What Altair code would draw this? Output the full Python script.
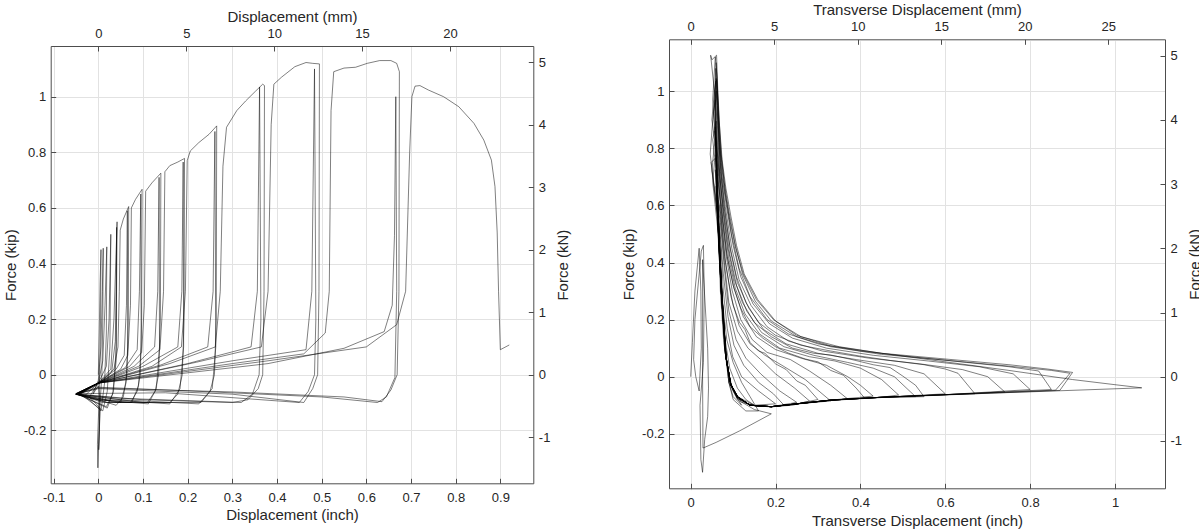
import altair as alt
import pandas as pd

# ---------------- data: left panel (Force vs Displacement), x in inch, y in kip
L01 = [(0.0, 0.0), (0.002, 0.15), (0.004, 0.33), (0.006, 0.45), (0.005, 0.2), (0.003, 0.0), (0.001, -0.12),
       (-0.002, -0.25), (-0.001, -0.335), (0.002, -0.2), (0.003, -0.08), (0.0, -0.04), (-0.012, -0.07), (0.0, -0.02)]
L02 = [(0.006, 0.1), (0.009, 0.3), (0.011, 0.455), (0.010, 0.2), (0.008, 0.0), (0.004, -0.1), (0.001, -0.27),
       (0.004, -0.12), (-0.02, -0.08), (0.0, -0.03)]
L03 = [(0.01, 0.05), (0.015, 0.25), (0.019, 0.46), (0.018, 0.15), (0.014, -0.03), (0.006, -0.13), (-0.03, -0.075), (0.0, -0.03)]
L04 = [(0.018, 0.03), (0.024, 0.2), (0.028, 0.505), (0.026, 0.1), (0.02, -0.06), (0.01, -0.13), (-0.04, -0.07), (0.0, -0.03)]
L05 = [(0.028, 0.02), (0.035, 0.2), (0.04, 0.45), (0.042, 0.55), (0.04, 0.1), (0.034, -0.06), (0.02, -0.12),
       (-0.045, -0.07), (0.0, -0.035)]
L06 = [(0.03, 0.01), (0.038, 0.12), (0.04, 0.3), (0.041, 0.53), (0.04, 0.05), (0.032, -0.07), (0.018, -0.115),
       (-0.05, -0.068), (0.0, -0.03)]
L07 = [(0.035, 0.02), (0.044, 0.1), (0.047, 0.3), (0.049, 0.52), (0.056, 0.56), (0.068, 0.605), (0.067, 0.2),
       (0.064, 0.0), (0.056, -0.08), (0.04, -0.11), (0.0, -0.09), (-0.05, -0.07), (0.0, -0.03)]
L08 = [(0.04, 0.02), (0.058, 0.07), (0.063, 0.25), (0.065, 0.59), (0.066, 0.1), (0.062, -0.03), (0.05, -0.1),
       (0.01, -0.1), (-0.05, -0.068), (0.0, -0.03)]
L09 = [(0.05, 0.02), (0.066, 0.07), (0.072, 0.25), (0.074, 0.6), (0.083, 0.63), (0.098, 0.667), (0.097, 0.2),
       (0.094, 0.0), (0.087, -0.06), (0.072, -0.1), (0.02, -0.1), (-0.052, -0.07), (0.0, -0.03)]
L10 = [(0.06, 0.025), (0.087, 0.09), (0.092, 0.3), (0.095, 0.65), (0.096, 0.1), (0.09, -0.04), (0.075, -0.1),
       (0.0, -0.09), (-0.05, -0.07), (0.0, -0.03)]
L11 = [(0.07, 0.03), (0.097, 0.08), (0.103, 0.25), (0.106, 0.66), (0.12, 0.69), (0.14, 0.725), (0.139, 0.2),
       (0.135, 0.0), (0.127, -0.06), (0.11, -0.1), (0.04, -0.1), (-0.05, -0.07), (0.0, -0.03)]
L12 = [(0.08, 0.03), (0.126, 0.1), (0.133, 0.3), (0.136, 0.71), (0.137, 0.1), (0.13, -0.05), (0.112, -0.105),
       (0.0, -0.09), (-0.048, -0.07), (0.0, -0.03)]
L13 = [(0.09, 0.03), (0.138, 0.09), (0.146, 0.3), (0.149, 0.73), (0.16, 0.752), (0.178, 0.765), (0.193, 0.778),
       (0.192, 0.2), (0.188, 0.0), (0.178, -0.07), (0.16, -0.1), (0.05, -0.1), (-0.05, -0.07), (0.0, -0.03)]
L14 = [(0.1, 0.03), (0.178, 0.1), (0.187, 0.3), (0.19, 0.765), (0.191, 0.1), (0.183, -0.05), (0.16, -0.105),
       (0.02, -0.09), (-0.046, -0.07), (0.0, -0.03)]
L15 = [(0.12, 0.03), (0.186, 0.1), (0.195, 0.3), (0.199, 0.77), (0.206, 0.805), (0.225, 0.835), (0.248, 0.865),
       (0.265, 0.895), (0.264, 0.2), (0.26, 0.0), (0.25, -0.06), (0.23, -0.1), (0.1, -0.1), (-0.05, -0.07), (0.0, -0.03)]
L16 = [(0.14, 0.035), (0.245, 0.1), (0.257, 0.3), (0.261, 0.875), (0.263, 0.1), (0.255, -0.05), (0.225, -0.105),
       (0.05, -0.09), (-0.045, -0.07), (0.0, -0.03)]
L17 = [(0.16, 0.04), (0.262, 0.1), (0.273, 0.3), (0.279, 0.75), (0.287, 0.89), (0.31, 0.95), (0.33, 0.985),
       (0.352, 1.02), (0.368, 1.045), (0.372, 1.04), (0.371, 0.3), (0.368, 0.0), (0.358, -0.05), (0.335, -0.09),
       (0.3, -0.1), (0.1, -0.09), (-0.05, -0.07), (0.0, -0.03)]
L18 = [(0.2, 0.04), (0.342, 0.1), (0.356, 0.3), (0.361, 1.035), (0.364, 0.2), (0.36, 0.0), (0.345, -0.07),
       (0.32, -0.1), (0.05, -0.085), (-0.042, -0.07), (0.0, -0.03)]
L19 = [(0.22, 0.045), (0.365, 0.1), (0.38, 0.3), (0.387, 0.9), (0.393, 1.045), (0.41, 1.07), (0.44, 1.108),
       (0.465, 1.123), (0.48, 1.12), (0.495, 1.118), (0.494, 0.3), (0.491, 0.0), (0.48, -0.05), (0.46, -0.1),
       (0.3, -0.07), (0.0, -0.05), (-0.05, -0.07), (0.0, -0.03)]
L20 = [(0.3, 0.05), (0.465, 0.09), (0.478, 0.3), (0.484, 1.1), (0.487, 0.2), (0.484, 0.0), (0.47, -0.06),
       (0.45, -0.1), (0.15, -0.065), (-0.045, -0.068), (0.0, -0.03)]
L21 = [(0.3, 0.04), (0.46, 0.075), (0.508, 0.15), (0.517, 0.3), (0.521, 0.95), (0.527, 1.09), (0.55, 1.103),
       (0.576, 1.106), (0.602, 1.12), (0.63, 1.13), (0.655, 1.13), (0.668, 1.12), (0.674, 1.09), (0.673, 0.3),
       (0.669, 0.0), (0.655, -0.055), (0.635, -0.097), (0.55, -0.08), (0.3, -0.062), (0.0, -0.048),
       (-0.05, -0.07), (0.0, -0.03)]
L22 = [(0.38, 0.04), (0.55, 0.095), (0.64, 0.155), (0.658, 0.25), (0.663, 0.5), (0.666, 1.0), (0.668, 0.3),
       (0.664, -0.01), (0.645, -0.08), (0.625, -0.1), (0.5, -0.08), (0.2, -0.058), (0.0, -0.045),
       (-0.045, -0.068), (0.0, -0.03)]
L23 = [(0.38, 0.05), (0.6, 0.1), (0.668, 0.18), (0.688, 0.3), (0.697, 0.8), (0.702, 1.0), (0.709, 1.038),
       (0.72, 1.04), (0.739, 1.024), (0.773, 1.0), (0.807, 0.964), (0.841, 0.904), (0.863, 0.844), (0.88, 0.772),
       (0.888, 0.677), (0.893, 0.51), (0.896, 0.3), (0.9, 0.09), (0.92, 0.107)]
LEFT_CYCLES = [L01, L02, L03, L04, L05, L06, L07, L08, L09, L10, L11, L12,
               L13, L14, L15, L16, L17, L18, L19, L20, L21, L22, L23]

# ---------------- data: right panel (Force vs Transverse displacement)
R01 = [(0.0, 0.0), (0.004, 0.12), (0.01, 0.3), (0.02, 0.45), (0.024, 0.3), (0.025, 0.1), (0.02, -0.05),
       (0.012, 0.0), (0.007, 0.06), (0.01, 0.2), (0.025, 0.44), (0.03, 0.46), (0.032, 0.3), (0.03, 0.05),
       (0.022, -0.1), (0.024, -0.29), (0.028, -0.335), (0.033, -0.22), (0.04, -0.14), (0.042, -0.04),
       (0.04, 0.1), (0.028, 0.41), (0.028, 0.0), (0.029, -0.25), (0.06, -0.23), (0.115, -0.19),
       (0.19, -0.13), (0.15, -0.115), (0.11, -0.08), (0.09, -0.02)]
R02 = [(0.08, 0.1), (0.072, 0.3), (0.066, 0.5), (0.07, 0.3), (0.078, 0.12), (0.088, 0.02), (0.1, -0.05),
       (0.12, -0.1), (0.1, -0.07), (0.09, -0.02)]
R03 = [(0.082, 0.1), (0.07, 0.35), (0.064, 0.55), (0.067, 0.5), (0.072, 0.3), (0.08, 0.14), (0.092, 0.03),
       (0.11, -0.04), (0.13, -0.08), (0.15, -0.1), (0.12, -0.09), (0.095, -0.03)]
R04 = [(0.085, 0.05), (0.074, 0.25), (0.066, 0.45), (0.062, 0.6), (0.065, 0.55), (0.07, 0.48), (0.077, 0.3),
       (0.086, 0.17), (0.099, 0.07), (0.12, 0.0), (0.16, -0.05), (0.2, -0.095), (0.15, -0.1), (0.11, -0.07),
       (0.095, -0.03)]
R05 = [(0.084, 0.06), (0.075, 0.25), (0.066, 0.5), (0.06, 0.667), (0.063, 0.6), (0.068, 0.53), (0.077, 0.36),
       (0.088, 0.21), (0.102, 0.11), (0.125, 0.04), (0.16, -0.02), (0.195, -0.06), (0.22, -0.1), (0.19, -0.105),
       (0.14, -0.1), (0.11, -0.07), (0.095, -0.03)]
R06 = [(0.083, 0.07), (0.074, 0.28), (0.067, 0.5), (0.062, 0.65), (0.064, 0.6), (0.07, 0.54), (0.08, 0.37),
       (0.09, 0.23), (0.107, 0.13), (0.13, 0.065), (0.165, 0.01), (0.21, -0.05), (0.25, -0.09), (0.19, -0.105),
       (0.14, -0.1), (0.11, -0.075), (0.095, -0.03)]
R07 = [(0.085, 0.05), (0.076, 0.2), (0.068, 0.4), (0.062, 0.6), (0.058, 0.725), (0.062, 0.65), (0.07, 0.56),
       (0.08, 0.39), (0.09, 0.26), (0.11, 0.16), (0.135, 0.1), (0.165, 0.06), (0.2, 0.01), (0.245, -0.04),
       (0.28, -0.085), (0.24, -0.1), (0.19, -0.105), (0.14, -0.1), (0.11, -0.07), (0.093, -0.02)]
R08 = [(0.082, 0.08), (0.073, 0.3), (0.066, 0.5), (0.06, 0.65), (0.062, 0.71), (0.065, 0.62), (0.072, 0.56),
       (0.082, 0.4), (0.095, 0.28), (0.114, 0.18), (0.14, 0.115), (0.175, 0.075), (0.215, 0.04), (0.27, -0.01),
       (0.33, -0.085), (0.25, -0.095), (0.19, -0.105), (0.14, -0.1), (0.11, -0.07), (0.094, -0.025)]
R09 = [(0.083, 0.07), (0.072, 0.3), (0.065, 0.5), (0.052, 0.68), (0.056, 0.75), (0.06, 0.778), (0.064, 0.7),
       (0.073, 0.57), (0.084, 0.42), (0.098, 0.3), (0.118, 0.2), (0.145, 0.13), (0.18, 0.085), (0.235, 0.06),
       (0.28, 0.02), (0.33, -0.03), (0.37, -0.078), (0.33, -0.082), (0.25, -0.095), (0.19, -0.105),
       (0.14, -0.1), (0.11, -0.07), (0.094, -0.025)]
R10 = [(0.084, 0.06), (0.074, 0.28), (0.066, 0.48), (0.06, 0.62), (0.048, 0.75), (0.058, 0.765), (0.063, 0.7),
       (0.074, 0.57), (0.086, 0.42), (0.102, 0.31), (0.124, 0.21), (0.155, 0.14), (0.2, 0.095), (0.26, 0.065),
       (0.32, 0.04), (0.37, 0.0), (0.4, -0.03), (0.43, -0.068), (0.33, -0.082), (0.25, -0.095), (0.19, -0.105),
       (0.14, -0.1), (0.11, -0.07), (0.095, -0.03)]
R11 = [(0.082, 0.08), (0.072, 0.3), (0.064, 0.55), (0.058, 0.75), (0.052, 0.83), (0.06, 0.895), (0.064, 0.8),
       (0.069, 0.7), (0.076, 0.58), (0.089, 0.42), (0.105, 0.31), (0.128, 0.22), (0.162, 0.15), (0.21, 0.1),
       (0.28, 0.07), (0.34, 0.055), (0.4, 0.03), (0.45, -0.01), (0.49, -0.064), (0.45, -0.072), (0.33, -0.082),
       (0.25, -0.095), (0.19, -0.105), (0.14, -0.1), (0.11, -0.07), (0.094, -0.025)]
R12 = [(0.083, 0.07), (0.073, 0.3), (0.065, 0.55), (0.06, 0.75), (0.058, 0.875), (0.062, 0.8), (0.068, 0.7),
       (0.078, 0.58), (0.092, 0.43), (0.108, 0.32), (0.132, 0.23), (0.167, 0.155), (0.22, 0.105), (0.29, 0.075),
       (0.37, 0.05), (0.43, 0.03), (0.48, 0.0), (0.53, -0.07), (0.45, -0.072), (0.33, -0.082), (0.25, -0.095),
       (0.19, -0.105), (0.14, -0.1), (0.11, -0.075), (0.095, -0.03)]
R13 = [(0.082, 0.08), (0.072, 0.3), (0.064, 0.55), (0.059, 0.8), (0.05, 0.9), (0.056, 1.0), (0.06, 1.045),
       (0.063, 0.95), (0.066, 0.85), (0.07, 0.72), (0.079, 0.59), (0.094, 0.44), (0.11, 0.33), (0.137, 0.24),
       (0.172, 0.165), (0.225, 0.115), (0.3, 0.082), (0.39, 0.06), (0.48, 0.04), (0.55, 0.01), (0.6, -0.06),
       (0.45, -0.072), (0.33, -0.082), (0.25, -0.095), (0.19, -0.105), (0.14, -0.1), (0.11, -0.07),
       (0.094, -0.025)]
R14 = [(0.083, 0.07), (0.073, 0.3), (0.065, 0.55), (0.06, 0.8), (0.057, 0.95), (0.059, 1.035), (0.062, 0.95),
       (0.066, 0.82), (0.072, 0.7), (0.081, 0.6), (0.097, 0.45), (0.114, 0.34), (0.142, 0.25), (0.18, 0.175),
       (0.23, 0.125), (0.31, 0.09), (0.42, 0.065), (0.54, 0.045), (0.64, 0.025), (0.7, 0.0), (0.74, -0.053),
       (0.6, -0.063), (0.45, -0.072), (0.33, -0.082), (0.25, -0.095), (0.19, -0.105), (0.14, -0.1),
       (0.11, -0.07), (0.095, -0.03)]
R15 = [(0.082, 0.08), (0.072, 0.3), (0.064, 0.55), (0.06, 0.78), (0.052, 0.97), (0.055, 1.05), (0.058, 1.12),
       (0.062, 1.05), (0.064, 0.95), (0.068, 0.82), (0.074, 0.7), (0.084, 0.6), (0.1, 0.46), (0.118, 0.35),
       (0.147, 0.255), (0.186, 0.185), (0.24, 0.135), (0.32, 0.1), (0.43, 0.075), (0.56, 0.055), (0.68, 0.035),
       (0.76, 0.01), (0.8, -0.045), (0.6, -0.063), (0.45, -0.072), (0.33, -0.082), (0.25, -0.095),
       (0.19, -0.105), (0.14, -0.1), (0.11, -0.07), (0.094, -0.025)]
R16 = [(0.083, 0.07), (0.073, 0.3), (0.065, 0.55), (0.061, 0.8), (0.058, 1.0), (0.06, 1.1), (0.063, 1.02),
       (0.066, 0.9), (0.071, 0.78), (0.079, 0.68), (0.09, 0.58), (0.104, 0.47), (0.122, 0.36), (0.152, 0.265),
       (0.19, 0.195), (0.25, 0.14), (0.33, 0.105), (0.45, 0.078), (0.6, 0.058), (0.75, 0.037), (0.85, 0.022),
       (0.894, 0.012), (0.86, -0.047), (0.6, -0.063), (0.45, -0.072), (0.33, -0.082), (0.25, -0.095),
       (0.19, -0.105), (0.14, -0.1), (0.11, -0.075), (0.095, -0.03)]
R17 = [(0.082, 0.08), (0.072, 0.3), (0.064, 0.55), (0.06, 0.8), (0.056, 1.0), (0.047, 1.126), (0.05, 1.11),
       (0.061, 1.126), (0.064, 1.0), (0.068, 0.88), (0.074, 0.76), (0.083, 0.66), (0.095, 0.56), (0.108, 0.46),
       (0.126, 0.36), (0.158, 0.27), (0.2, 0.195), (0.26, 0.14), (0.35, 0.105), (0.45, 0.082), (0.6, 0.052),
       (0.75, 0.022), (0.9, -0.01), (1.0, -0.028), (1.063, -0.039), (0.8, -0.053), (0.6, -0.063), (0.45, -0.072),
       (0.33, -0.082), (0.25, -0.095), (0.19, -0.105), (0.14, -0.1), (0.11, -0.07), (0.094, -0.025)]
R18 = [(0.083, 0.07), (0.073, 0.3), (0.066, 0.55), (0.062, 0.8), (0.059, 0.95), (0.061, 1.04), (0.064, 0.95),
       (0.067, 0.85), (0.072, 0.75), (0.08, 0.65), (0.092, 0.55), (0.106, 0.45), (0.124, 0.36), (0.155, 0.27),
       (0.195, 0.2), (0.25, 0.145), (0.33, 0.108), (0.45, 0.082), (0.6, 0.062), (0.75, 0.042), (0.84, 0.027),
       (0.9, 0.015), (0.87, -0.048), (0.6, -0.064), (0.45, -0.073), (0.33, -0.083), (0.25, -0.096),
       (0.19, -0.106), (0.14, -0.1), (0.11, -0.07), (0.094, -0.025)]
# extra intermediate cycles with irregular unloading paths
R19 = [(0.083, 0.07), (0.073, 0.3), (0.065, 0.55), (0.05, 0.72), (0.055, 0.8), (0.059, 0.84), (0.062, 0.76),
       (0.066, 0.7), (0.072, 0.55), (0.08, 0.42), (0.09, 0.33), (0.1, 0.25), (0.115, 0.19), (0.128, 0.165),
       (0.14, 0.12), (0.16, 0.09), (0.175, 0.082), (0.2, 0.045), (0.225, 0.025), (0.25, -0.015), (0.27, -0.03),
       (0.3, -0.08), (0.25, -0.095), (0.19, -0.105), (0.14, -0.1), (0.11, -0.07), (0.094, -0.025)]
R20 = [(0.084, 0.06), (0.074, 0.28), (0.066, 0.5), (0.061, 0.7), (0.057, 0.86), (0.062, 0.8), (0.067, 0.7),
       (0.075, 0.56), (0.085, 0.43), (0.1, 0.32), (0.118, 0.24), (0.14, 0.175), (0.17, 0.135), (0.2, 0.105),
       (0.23, 0.083), (0.27, 0.062), (0.3, 0.052), (0.33, 0.022), (0.36, 0.005), (0.39, -0.04), (0.41, -0.075),
       (0.33, -0.083), (0.25, -0.095), (0.19, -0.105), (0.14, -0.1), (0.11, -0.07), (0.095, -0.03)]
R21 = [(0.082, 0.08), (0.072, 0.3), (0.064, 0.55), (0.046, 0.78), (0.052, 0.9), (0.058, 0.97), (0.063, 0.88),
       (0.068, 0.72), (0.077, 0.58), (0.088, 0.45), (0.103, 0.34), (0.122, 0.26), (0.15, 0.19), (0.19, 0.14),
       (0.24, 0.1), (0.29, 0.082), (0.33, 0.076), (0.38, 0.06), (0.43, 0.042), (0.47, 0.032), (0.5, 0.002),
       (0.53, -0.03), (0.55, -0.07), (0.45, -0.072), (0.33, -0.082), (0.25, -0.095), (0.19, -0.105),
       (0.14, -0.1), (0.11, -0.07), (0.094, -0.025)]
R22 = [(0.083, 0.07), (0.073, 0.3), (0.065, 0.55), (0.06, 0.8), (0.054, 0.93), (0.06, 1.0), (0.064, 0.9),
       (0.07, 0.75), (0.079, 0.6), (0.092, 0.46), (0.108, 0.35), (0.13, 0.26), (0.16, 0.19), (0.2, 0.145),
       (0.26, 0.11), (0.33, 0.09), (0.4, 0.072), (0.47, 0.057), (0.55, 0.042), (0.6, 0.027), (0.63, 0.012),
       (0.67, -0.06), (0.6, -0.063), (0.45, -0.072), (0.33, -0.082), (0.25, -0.095), (0.19, -0.105),
       (0.14, -0.1), (0.11, -0.07), (0.095, -0.03)]
R23 = [(0.082, 0.08), (0.072, 0.3), (0.064, 0.55), (0.06, 0.8), (0.057, 1.0), (0.059, 1.08), (0.063, 1.0),
       (0.067, 0.9), (0.072, 0.78), (0.082, 0.64), (0.096, 0.5), (0.114, 0.38), (0.14, 0.28), (0.18, 0.2),
       (0.23, 0.15), (0.3, 0.115), (0.4, 0.09), (0.52, 0.07), (0.65, 0.05), (0.75, 0.035), (0.82, 0.02),
       (0.85, -0.045), (0.6, -0.063), (0.45, -0.072), (0.33, -0.082), (0.25, -0.095), (0.19, -0.105),
       (0.14, -0.1), (0.11, -0.07), (0.094, -0.025)]
R24 = [(0.084, 0.06), (0.074, 0.28), (0.067, 0.5), (0.064, 0.6), (0.07, 0.4), (0.076, 0.25), (0.085, 0.13),
       (0.1, 0.05), (0.12, -0.02), (0.14, -0.07), (0.16, -0.12), (0.13, -0.12), (0.1, -0.08), (0.09, -0.02)]
RIGHT_CYCLES = [R01, R02, R03, R24, R04, R05, R06, R07, R19, R08, R09, R20, R10, R11, R21, R12,
                R13, R22, R14, R23, R15, R16, R17, R18]

# tick values
INCH_TICKS_L = [-0.1, 0, 0.1, 0.2, 0.3, 0.4, 0.5, 0.6, 0.7, 0.8, 0.9]
INCH_TICKS_R = [0, 0.2, 0.4, 0.6, 0.8, 1.0]
MM_TICKS_L = [0, 5, 10, 15, 20]
MM_TICKS_R = [0, 5, 10, 15, 20, 25]
KIP_TICKS = [-0.2, 0, 0.2, 0.4, 0.6, 0.8, 1.0]
KN_TICKS = [-1, 0, 1, 2, 3, 4, 5]


def frame(cycles):
    xs, ys, seq = [], [], []
    for c in cycles:
        for px, py in c:
            xs.append(px)
            ys.append(py)
            seq.append(len(seq))
    return pd.DataFrame({"x": xs, "y": ys, "seq": seq})


left_df = frame(LEFT_CYCLES)
right_df = frame(RIGHT_CYCLES)

# ---------------- layout (pixels in the 1199 x 529 view)
W, H = 1199, 529
FONT = "Liberation Sans"
TXT = "#262626"
AX = "#4d4d4d"
GRID = "#e2e2e2"
LAB = 13
TIT = 15

MINUS = "replace(datum.label, '\u2212', '-')"


def panel(df, xdom, ydom, x0, x1, y0, y1, xticks, mmticks, xtitle, mmtitle, btp):
    xr = [x0, x1]
    yr = [y1, y0]
    mmdom = [xdom[0] * 25.4, xdom[1] * 25.4]
    kndom = [ydom[0] * 4.448, ydom[1] * 4.448]
    base = alt.Chart(df).transform_calculate(mm="datum.x * 25.4", kn="datum.y * 4.448")

    common = dict(labelFont=FONT, titleFont=FONT, labelColor=TXT, titleColor=TXT,
                  labelFontSize=LAB, titleFontSize=TIT, titleFontWeight="normal",
                  domainColor=AX, tickColor=AX)

    lines = base.mark_line(color="#000000", strokeWidth=0.5, strokeJoin="round").encode(
        x=alt.X("x:Q", scale=alt.Scale(domain=xdom, range=xr, nice=False, zero=False),
                axis=alt.Axis(orient="bottom", offset=y1 - H, values=xticks, format="~g",
                              labelExpr=MINUS, title=xtitle, grid=True, gridColor=GRID,
                              ticks=False, labelPadding=8, titlePadding=btp, labelFlush=False, **common)),
        y=alt.Y("y:Q", scale=alt.Scale(domain=ydom, range=yr, nice=False, zero=False),
                axis=alt.Axis(orient="left", offset=-x0, values=KIP_TICKS, format="~g",
                              labelExpr=MINUS, title="Force (kip)", grid=True, gridColor=GRID,
                              ticks=False, labelPadding=5, titlePadding=5, labelFlush=False, **common)),
        order="seq:Q",
    )
    sec = base.mark_point(opacity=0).encode(
        x=alt.X("mm:Q", scale=alt.Scale(domain=mmdom, range=xr, nice=False, zero=False),
                axis=alt.Axis(orient="top", offset=-y0, values=mmticks, format="~g",
                              labelExpr=MINUS, title=mmtitle, grid=False,
                              ticks=False, labelPadding=6, titlePadding=3, labelFlush=False, **common)),
        y=alt.Y("kn:Q", scale=alt.Scale(domain=kndom, range=yr, nice=False, zero=False),
                axis=alt.Axis(orient="right", offset=x1 - W, values=KN_TICKS, format="~g",
                              labelExpr=MINUS, title="Force (kN)", grid=False, titleAngle=270,
                              titleBaseline="top",
                              ticks=False, labelPadding=5, titlePadding=6, labelFlush=False, **common)),
    )
    tick_common = dict(labels=False, domain=False, grid=False, ticks=True, tickSize=5,
                       tickColor=AX, tickWidth=1, title=None)
    inw1 = base.mark_point(opacity=0).encode(
        x=alt.X("x:Q", scale=alt.Scale(domain=xdom, range=xr, nice=False, zero=False),
                axis=alt.Axis(orient="top", offset=-y1, values=xticks, **tick_common)),
        y=alt.Y("y:Q", scale=alt.Scale(domain=ydom, range=yr, nice=False, zero=False),
                axis=alt.Axis(orient="right", offset=x0 - W, values=KIP_TICKS, **tick_common)),
    )
    inw2 = base.mark_point(opacity=0).encode(
        x=alt.X("mm:Q", scale=alt.Scale(domain=mmdom, range=xr, nice=False, zero=False),
                axis=alt.Axis(orient="bottom", offset=y0 - H, values=mmticks, **tick_common)),
        y=alt.Y("kn:Q", scale=alt.Scale(domain=kndom, range=yr, nice=False, zero=False),
                axis=alt.Axis(orient="left", offset=-x1, values=KN_TICKS, **tick_common)),
    )
    return [lines, sec, inw1, inw2]


left_layers = panel(left_df, [-0.1066, 0.9738], [-0.3906, 1.1824], 50.7, 533.3, 46.0, 483.3,
                    INCH_TICKS_L, MM_TICKS_L, "Displacement (inch)", "Displacement (mm)", 3)
right_layers = panel(right_df, [-0.0511, 1.1178], [-0.3909, 1.1818], 669.0, 1165.0, 39.3, 488.3,
                     INCH_TICKS_R, MM_TICKS_R, "Transverse Displacement (inch)", "Transverse Displacement (mm)", 4)

chart = alt.layer(*left_layers, *right_layers).resolve_scale(
    x="independent", y="independent"
).properties(
    width=W, height=H, padding=0, autosize=alt.AutoSizeParams(type="none"), background="#ffffff"
).configure_view(stroke=None)

chart.save("out.html", embed_options={"renderer": "svg", "actions": False})
